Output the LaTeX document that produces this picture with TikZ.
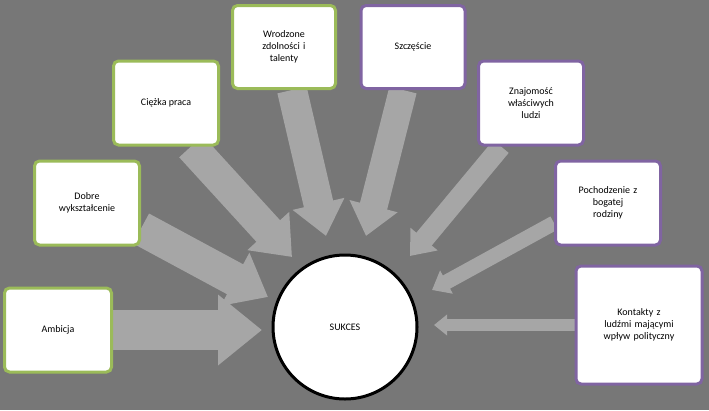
\documentclass[tikz,border=0pt]{standalone}
\usepackage{fontspec}
\setmainfont{Carlito}
\usetikzlibrary{arrows.meta,backgrounds}
\definecolor{bg}{HTML}{777777}
\definecolor{arr}{HTML}{A6A6A6}
\definecolor{grn}{HTML}{9BBB59}
\definecolor{pur}{HTML}{8064A2}
\tikzset{
  box/.style={draw, line width=3pt, fill=white, rounded corners=5pt, align=center, font=\fontsize{10}{12}\selectfont, inner sep=2pt},
  gbox/.style={box, draw=grn},
  pbox/.style={box, draw=pur},
  bigarrow/.style={draw=arr, line width=#1, -{Triangle[width=0pt 1.7, length=0pt 1.1]}},
}
\begin{document}
\begin{tikzpicture}[x=1pt,y=-1pt]
\useasboundingbox (0,0) rectangle (709,410);
\node[circle, draw=black, line width=3pt, fill=white, minimum size=144pt, font=\fontsize{10}{12}\selectfont] (s) at (345,327) {SUKCES};
\node[gbox, minimum width=107pt, minimum height=84pt] (a) at (58,330) {Ambicja};
\node[gbox, minimum width=105pt, minimum height=84pt, text width=95pt] (b) at (87,203) {Dobre\\wykształcenie};
\node[gbox, minimum width=105pt, minimum height=84pt] (c) at (166,103) {Ciężka praca};
\node[gbox, minimum width=103pt, minimum height=83pt, text width=95pt] (d) at (284,47) {Wrodzone\\zdolności i\\talenty};
\node[pbox, minimum width=104pt, minimum height=83pt] (e) at (413,47) {Szczęście};
\node[pbox, minimum width=105pt, minimum height=84pt, text width=95pt] (f) at (531,103) {Znajomość\\właściwych\\ludzi};
\node[pbox, minimum width=105pt, minimum height=84pt, text width=95pt] (g) at (608,203) {Pochodzenie z\\bogatej\\rodziny};
\node[pbox, minimum width=126pt, minimum height=118pt, text width=115pt] (h) at (639,325) {Kontakty z\\ludźmi mającymi\\wpływ polityczny};
\coordinate (ta) at (262,330);
\coordinate (tb) at (268,297);
\coordinate (tc) at (292,257);
\coordinate (td) at (326,236);
\coordinate (te) at (366,236);
\coordinate (tf) at (410,256);
\coordinate (tg) at (432,290);
\coordinate (th) at (434,325);
\begin{pgfonlayer}{background}
\fill[bg] (0,0) rectangle (709,410);
\draw[bigarrow=40pt] (a.east) -- (ta);
\draw[bigarrow=34pt] ([yshift=18pt]b.south east) -- (tb);
\draw[bigarrow=32pt] ([xshift=25pt]c.south) -- (tc);
\draw[bigarrow=30pt] ([xshift=8pt]d.south) -- (td);
\draw[bigarrow=28pt] ([xshift=-10pt]e.south) -- (te);
\draw[bigarrow=20pt] ([xshift=-30pt]f.south) -- (tf);
\draw[bigarrow=15pt] ([yshift=-20pt]g.west) -- (tg);
\draw[bigarrow=12pt] (h.west) -- (th);
\end{pgfonlayer}
\end{tikzpicture}
\end{document}
